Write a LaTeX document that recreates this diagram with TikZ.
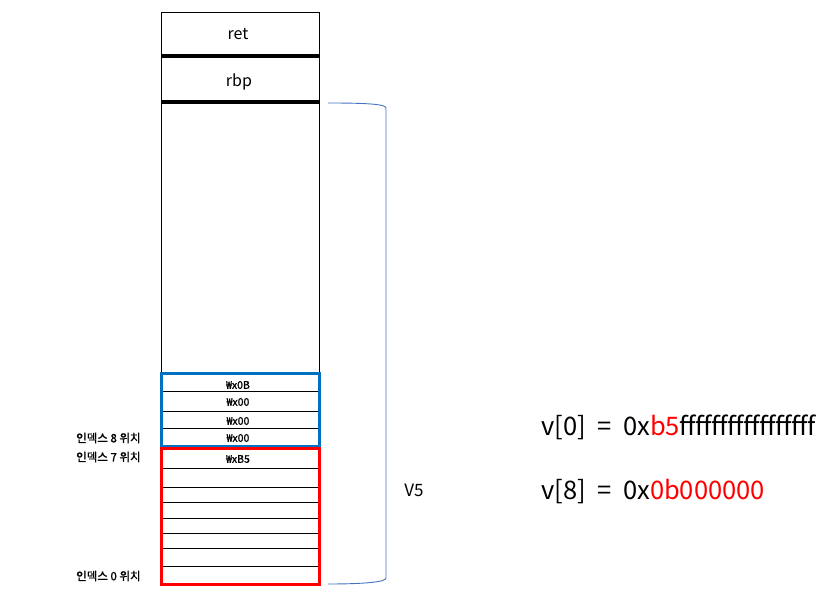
\documentclass[tikz,border=0pt]{standalone}
\usepackage{fontspec}
\setmainfont{Noto Sans CJK KR}
\newfontfamily\smallkr[FakeBold=1.2]{Noto Sans CJK KR}
\usetikzlibrary{positioning}
\definecolor{boxblue}{RGB}{0,112,192}
\definecolor{braceblue}{RGB}{68,114,196}
\definecolor{hexred}{RGB}{255,0,0}

\begin{document}
\begin{tikzpicture}[x=1pt,y=-1pt,line width=0.8pt,
	cell/.style={inner sep=0pt,font=\fontsize{16}{19}\selectfont},
	hexbyte/.style={inner sep=0pt,font=\smallkr\fontsize{10.5}{12}\selectfont},
	idxlabel/.style={anchor=east,inner sep=0pt,font=\smallkr\fontsize{11.5}{13}\selectfont},
	sepline/.style={line width=4pt},
	vexpr/.style={anchor=west,inner sep=0pt,font=\fontsize{25.5}{30}\selectfont}]
	
	\useasboundingbox (0,0) rectangle (823,604);
	
	% stack column
	\coordinate (top) at (161,12);
	\coordinate (bottom) at (319,584);
	\draw (top) rectangle (bottom);
	\draw[sepline] (161,56) -- (319,56);
	\draw[sepline] (161,102) -- (319,102);
	\node[cell] (ret) at (238,34) {ret};
	\node[cell] (rbp) at (239,82) {rbp};
	
	% byte rows
	\foreach \y in {391,411,428,468,487,502,518,533,548,566}
	\draw (161,\y) -- (319,\y);
	\draw[boxblue,line width=3pt] (161,374) rectangle (319,446);
	\draw[hexred,line width=3pt] (161,448) rectangle (319,584);
	
	\node[hexbyte] (b3) at (238,385) {₩x0B};
	\node[hexbyte] (b2) at (238,402) {₩x00};
	\node[hexbyte] (b1) at (238,421) {₩x00};
	\node[hexbyte] (b0) at (238,438) {₩x00};
	\node[hexbyte] (r7) at (238,459) {₩xB5};
	
	\node[idxlabel] (idx8) at (141,438) {인덱스 8 위치};
	\node[idxlabel] (idx7) at (141,457) {인덱스 7 위치};
	\node[idxlabel] (idx0) at (141,576) {인덱스 0 위치};
	
	% brace for V5
	\coordinate (btop) at (328,103);
	\coordinate (bbot) at (328,584);
	\draw[braceblue,line width=0.9pt] (btop) .. controls (365,103) and (386,104) .. (386,108)
	-- (386,578) .. controls (386,582) and (365,584) .. (bbot);
	\node[inner sep=0pt,font=\fontsize{17}{20}\selectfont] (v5) at (414,490) {V5};
	
	\node[vexpr] (v0) at (541,427) {v[0]\hspace{0.45em}=\hspace{0.45em}0x\textcolor{hexred}{b5}{\addfontfeatures{LetterSpace=-2}fffffffffffffffff}};
	\node[vexpr] (v8) at (541,492) {v[8]\hspace{0.45em}=\hspace{0.45em}0x\textcolor{hexred}{0b000000}};
	
\end{tikzpicture}
\end{document}
